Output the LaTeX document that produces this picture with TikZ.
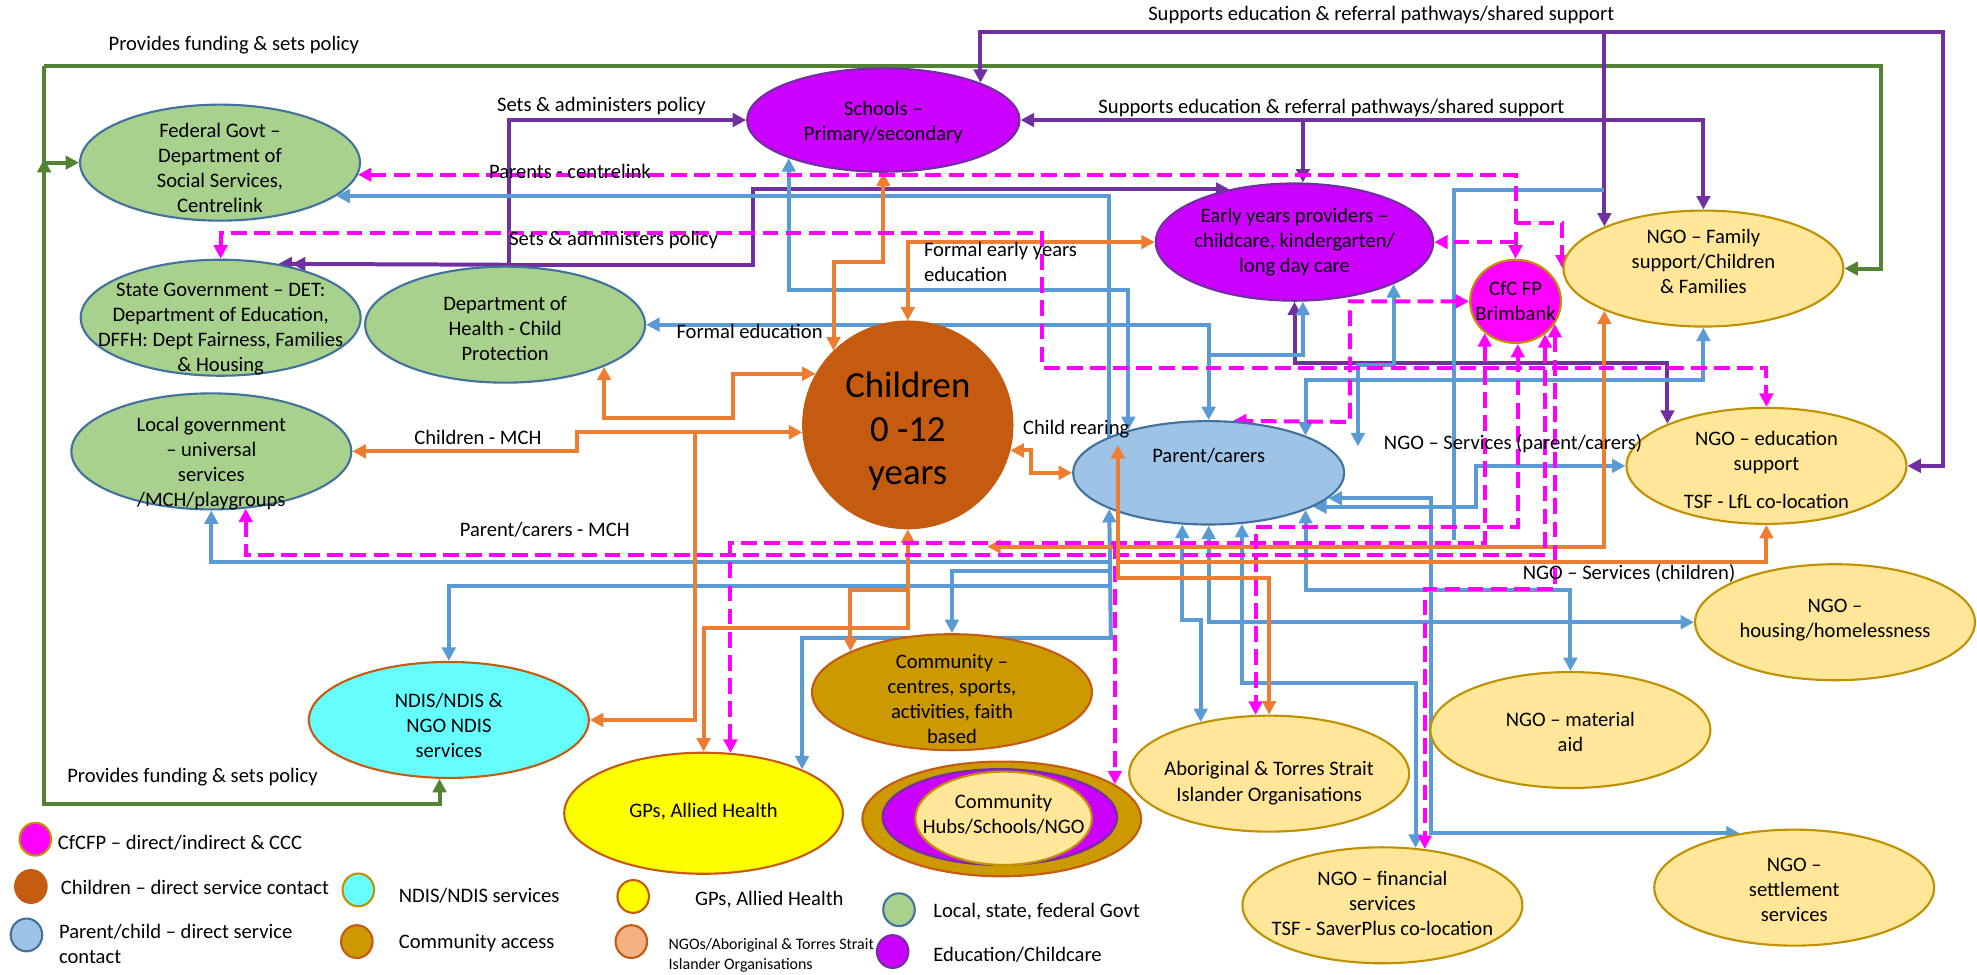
\documentclass[tikz,border=0pt]{standalone}
\usepackage{fontspec}
\setmainfont{Carlito}
\usetikzlibrary{arrows.meta,shapes.geometric,backgrounds}
\definecolor{fundgreen}{HTML}{548235}
\definecolor{polpurple}{HTML}{7030A0}
\definecolor{parblue}{HTML}{5B9BD5}
\definecolor{kidorange}{HTML}{ED7D31}
\definecolor{cfcmag}{HTML}{FF00FF}
\definecolor{govfill}{HTML}{A9D18E}
\definecolor{govedge}{HTML}{41719C}
\definecolor{edufill}{HTML}{CC00FF}
\definecolor{ngofill}{HTML}{FFE699}
\definecolor{ngoedge}{HTML}{BF9000}
\definecolor{kidfill}{HTML}{C55A11}
\definecolor{parfill}{HTML}{9DC3E6}
\definecolor{ndisfill}{HTML}{66FFFF}
\definecolor{gpfill}{HTML}{FFFF00}
\definecolor{comfill}{HTML}{CC9900}
\definecolor{peach}{HTML}{F4B183}
\newcommand{\nodefont}{\fontsize{9.8}{11.9}\selectfont}
\newcommand{\bigfont}{\fontsize{17.5}{20.6}\selectfont}
\newcommand{\keyfont}{\fontsize{7.6}{9.5}\selectfont}
\begin{document}
\begin{tikzpicture}[x=0.6pt,y=-0.6pt,font=\nodefont,>={Triangle[length=6.4pt,width=6.4pt]},
  bub/.style={ellipse,inner sep=0pt,line width=1pt,minimum width=133.2pt,minimum height=55.2pt},
  gov/.style={bub,draw=govedge,fill=govfill},
  ngo/.style={bub,draw=ngoedge,fill=ngofill},
  educ/.style={bub,draw=polpurple,fill=edufill},
  txt/.style={align=center,inner sep=0pt,font=\nodefont},
  lbl/.style={inner sep=0pt,font=\nodefont},
  keydot/.style={ellipse,inner sep=0pt,line width=1pt,minimum width=15pt,minimum height=15.6pt},
  fundline/.style={draw=fundgreen,line width=1.9pt},
  polline/.style={draw=polpurple,line width=1.9pt},
  kidline/.style={draw=kidorange,line width=1.9pt},
  parline/.style={draw=parblue,line width=1.9pt},
  cfcline/.style={draw=cfcmag,line width=1.9pt,dash pattern=on 7.5pt off 3.5pt}]
\useasboundingbox (0,0) rectangle (1568,773);
\node[gov,label={[txt,yshift=-2.6pt]center:{Federal Govt –\\Department of\\Social Services,\\Centrelink}}] (fed) at (174.5,129) {};
\node[gov,label={[txt,yshift=-5.2pt]center:{State Government – DET:\\Department of Education,\\DFFH: Dept Fairness, Families\\\& Housing}}] (state) at (175,252) {};
\node[gov,label={[txt,yshift=-2pt]center:{Department of\\Health - Child\\Protection}}] (health) at (400.6,257.5) {};
\node[gov,label={[txt,yshift=-5.6pt]center:{Local government\\– universal\\services\\/MCH/playgroups}}] (local) at (167.6,358) {};
\node[bub,draw=kidfill,fill=ndisfill,label={[txt,yshift=-2.4pt]center:{NDIS/NDIS \&\\NGO NDIS\\services}}] (ndis) at (356,571) {};
\node[educ,minimum width=129.6pt,minimum height=49.2pt,label={[txt,yshift=-1.2pt]center:{Schools –\\Primary/secondary}}] (schools) at (700.6,95.2) {};
\node[educ,minimum width=132pt,minimum height=55.8pt,label={[txt]center:{Early years providers –\\childcare, kindergarten/\\long day care}}] (early) at (1026.7,192) {};
\node[bub,draw=ngoedge,fill=cfcmag,minimum width=43.2pt,minimum height=39.6pt,label={[txt]center:{CfC FP\\Brimbank}}] (cfc) at (1202,239) {};
\node[ngo,label={[txt,yshift=3.3pt]center:{NGO – Family\\support/Children\\\& Families}}] (family) at (1351,213) {};
\node[bub,draw=kidfill,fill=kidfill,minimum width=99.6pt,minimum height=98.4pt,label={[txt,font=\bigfont,yshift=-3pt]center:{Children\\0 -12\\years}}] (children) at (720,337) {};
\node[bub,draw=govedge,fill=parfill,minimum width=129pt,minimum height=49.2pt,label={[txt,yshift=8.2pt]center:{Parent/carers}}] (parent) at (958.6,375) {};
\node[ngo,label={[txt,yshift=-1.8pt]center:{NGO – education\\support\\[6.3pt]TSF - LfL co-location}}] (ngoedu) at (1401,369.5) {};
\node[ngo,label={[txt,yshift=1.2pt]center:{NGO –\\housing/homelessness}}] (housing) at (1455.4,493.5) {};
\node[ngo,label={[txt,yshift=-1pt]center:{NGO – material\\aid}}] (aid) at (1245.5,579) {};
\node[ngo,label={[txt,yshift=-4.5pt]center:{Aboriginal \& Torres Strait\\Islander Organisations}}] (abor) at (1006.6,613.6) {};
\node[ngo,label={[txt,yshift=1pt]center:{NGO – financial\\services\\TSF - SaverPlus co-location}}] (fin) at (1096.4,718) {};
\node[ngo,label={[txt,yshift=-1.2pt]center:{NGO –\\settlement\\services}}] (settle) at (1423,704) {};
\node[bub,draw=kidfill,fill=comfill,label={[txt,yshift=-3pt]center:{Community –\\centres, sports,\\activities, faith\\based}}] (comm) at (755,549) {};
\node[bub,draw=kidfill,fill=gpfill,minimum width=132.6pt,minimum height=57.6pt,label={[txt,yshift=0.6pt]center:{GPs, Allied Health}}] (gps) at (558,645) {};
\node[bub,draw=kidfill,fill=comfill,minimum width=132.6pt,minimum height=54.6pt] (hubs) at (794.5,649.5) {};
\node[bub,draw=polpurple,fill=edufill,minimum width=111.6pt,minimum height=45.6pt] (hubsmid) at (793,648) {};
\node[bub,draw=ngoedge,fill=ngofill,minimum width=84pt,minimum height=44.4pt,label={[txt,yshift=1.8pt]center:{Community\\Hubs/Schools/NGO}}] (hubsin) at (796,649) {};
\node[keydot,draw=ngoedge,fill=cfcmag] (keycfc) at (28,665.6) {};
\node[lbl,anchor=west] (keycfctext) at (45.6,668.8) {CfCFP – direct/indirect \& CCC};
\node[keydot,draw=kidfill,fill=kidfill] (keykid) at (24.5,703.1) {};
\node[lbl,anchor=west] (keykidtext) at (48,703.6) {Children – direct service contact};
\node[keydot,draw=govedge,fill=parfill] (keypar) at (21,741.5) {};
\node[lbl,anchor=west,align=left] (keypartext) at (46.5,748.7) {Parent/child – direct service\\contact};
\node[keydot,draw=ngoedge,fill=ndisfill] (keyndis) at (284.2,705.8) {};
\node[lbl,anchor=west] (keyndistext) at (316,710.5) {NDIS/NDIS services};
\node[keydot,draw=kidfill,fill=comfill] (keycomm) at (283,746.8) {};
\node[lbl,anchor=west] (keycommtext) at (316,748) {Community access};
\node[keydot,draw=kidfill,fill=gpfill] (keygp) at (502.2,711) {};
\node[lbl,anchor=west] (keygptext) at (551,713.7) {GPs, Allied Health};
\node[keydot,draw=kidfill,fill=peach] (keyngo) at (500.7,746.8) {};
\node[lbl,anchor=west,align=left,font=\keyfont] (keyngotext) at (530,757.3) {NGOs/Aboriginal \& Torres Strait\\Islander Organisations};
\node[keydot,draw=govedge,fill=govfill] (keygov) at (713,721.5) {};
\node[lbl,anchor=west] (keygovtext) at (740,723) {Local, state, federal Govt};
\node[keydot,draw=polpurple,fill=edufill] (keyedu) at (708,754.7) {};
\node[lbl,anchor=west] (keyedutext) at (740,757) {Education/Childcare};
\node[lbl] (fundtop) at (185.5,35.7) {Provides funding \& sets policy};
\node[lbl] (fundbot) at (152.7,616) {Provides funding \& sets policy};
\node[lbl] (suptop) at (1095.5,12) {Supports education \& referral pathways/shared support};
\node[lbl] (supmid) at (1056,86) {Supports education \& referral pathways/shared support};
\node[lbl] (setstop) at (477,84) {Sets \& administers policy};
\node[lbl] (setsmid) at (486.7,190) {Sets \& administers policy};
\node[lbl] (centrelink) at (452,136) {Parents - centrelink};
\node[lbl,anchor=west,align=left] (formalearly) at (732.5,208) {Formal early years\\education};
\node[lbl] (formaled) at (594.5,263) {Formal education};
\node[lbl] (rearing) at (853.6,340) {Child rearing};
\node[lbl] (kidmch) at (379,346.7) {Children - MCH};
\node[lbl] (parmch) at (432,420) {Parent/carers - MCH};
\node[lbl] (ngopar) at (1200,351.6) {NGO – Services (parent/carers)};
\node[lbl] (ngokid) at (1292,454.5) {NGO – Services (children)};
\coordinate (suptr) at (1541,25);
\coordinate (setsjoin) at (403.6,210);
\coordinate (kidfork) at (720,468);
\coordinate (kidstub) at (783,433.5);
\coordinate (rearTip) at (886.6,353);
\coordinate (busfoot) at (881,506);
\coordinate (b11end) at (1077,354);
\coordinate (spurtop) at (1272,150.7);
\coordinate (spurfoot) at (1153.5,428);
\begin{scope}[on background layer]
\fill[white] (0,0) rectangle (1568,773);
\draw[fundline,->] (35,52) -- (35,638) -| (ndis.-99);
\draw[fundline,->] (35,52) -| (1492,150) |- (family.east);
\draw[fundline,->] (35,129) -- (fed.west);
\draw[fundline,->] (35,150) -- (35,126);
\draw[polline,<->] (schools.21) |- (suptr) |- (ngoedu.east);
\draw[polline,->] (family.157 |- suptr) -- (family.157);
\draw[polline,<->] (schools.east) -| (family.north);
\draw[polline,->] (early.82 |- schools.east) -- (early.82);
\draw[polline,->] (setsjoin) |- (schools.west);
\draw[polline,->>] (setsjoin) -- (state.43);
\draw[polline,->] (setsjoin) -- (597,210) |- (early.141);
\draw[polline,<->] (early.south) -- (1026.7,287.6) -| (ngoedu.157);
\draw[parline,->] (parent.160) |- (fed.-16);
\draw[parline,<->] (parent.200) -- (busfoot) -| (gps.24);
\draw[parline,->] (881,445.4) -| (local.south);
\draw[parline,->] (881,453) -| (comm.north);
\draw[parline,->] (881,464.5) -| (ndis.north);
\draw[parline,<->] (schools.202) |- (760,230) -| (parent.152);
\draw[parline,<->] (health.east) -| (parent.north);
\draw[parline,->] (parent.north |- 0,281.5) -| (early.-82);
\draw[parline,<->] (early.-23) |- (1077,289.5) -- (b11end);
\draw[parline,<->] (family.south) |- (1200,301) -| (parent.21);
\draw[parline] (spurtop) -| (spurfoot);
\draw[parline,<->] (parent.-18) -| (1171,387) |- (ngoedu.west);
\draw[parline,<->] (parent.-12) -| (1135,527) |- (settle.135);
\draw[parline,<->] (parent.-57) |- (1050,541.8) -| (fin.60);
\draw[parline,<->] (parent.-117) |- (945,491.7) -| (abor.143);
\draw[parline,<->] (parent.south) |- (housing.west);
\draw[parline,<->] (parent.-21) |- (1100,468) -| (aid.north);
\draw[kidline,<->] (schools.south) |- (children.135 |- 0,207.5) -- (children.135);
\draw[kidline,<->] (children.north) |- (early.west);
\draw[kidline,<->] (children.151) -| (581,331.6) -| (health.-23);
\draw[kidline,<->] (children.184) -| (458,350) |- (local.east);
\draw[kidline,->] (children.184 -| 551.5,0) |- (ndis.east);
\draw[kidline,<->] (children.south) -- (kidfork) -| (comm.158);
\draw[kidline,->] (kidfork) -- (720,498) -| (gps.north);
\draw[kidline,<->] (children.-14) -| (818,366) |- (parent.west);
\draw[kidline,<->] (family.203) |- (kidstub);
\draw[cfcline,<->] (fed.-5) -| (cfc.north);
\draw[cfcline,<->] (state.north) |- (826.5,185) -- (826.5,292) -| (ngoedu.north);
\draw[cfcline,->] (cfc.north |- 0,176.6) -| (family.west);
\draw[cfcline,->] (cfc.north |- early.east) -- (early.east);
\draw[cfcline,<->] (cfc.west) -| (1070.6,334.6) -- (parent.65);
\draw[cfcline,<->] (cfc.-87) |- (1100,417.6) -| (abor.103);
\draw[cfcline,<->] (cfc.-134) |- (900,430.5) -| (gps.66);
\draw[cfcline,->] (hubs.17 |- 0,430.5) -- (hubs.17);
\draw[cfcline,<->] (cfc.-48) |- (700,440) -| (local.-59);
\draw[cfcline,<->] (cfc.-30) |- (1180,467) -| (fin.53);
\end{scope}
\draw[kidline,<->] (rearTip) -- (886.6,458.5) -| (abor.north);
\draw[kidline,->] (886.6,445.4) -| (ngoedu.south);
\end{tikzpicture}
\end{document}
